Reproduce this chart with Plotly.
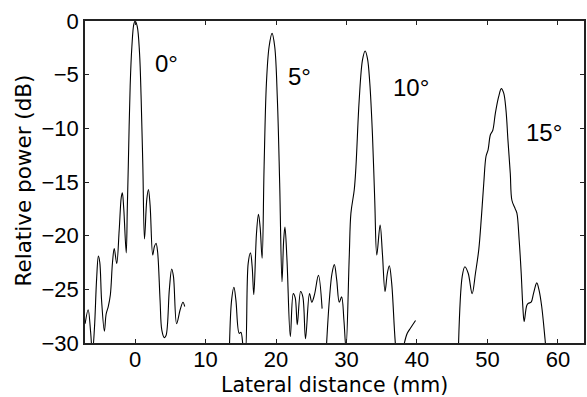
import plotly.graph_objects as go

# 0 degree beam profile
x0 = [-7.08, -6.65, -6.3, -6.05, -5.75, -5.45, -5.2, -5.0, -4.75, -4.35, -4.1, -3.8, -3.5, -3.2,
      -2.95, -2.6, -2.25, -1.95, -1.8, -1.6, -1.25, -1.1, -0.96, -0.69, -0.45, -0.17, 0.02,
      0.31, 0.64, 0.87, 1.11, 1.34, 1.67, 1.9, 2.14, 2.51, 2.75, 2.98, 3.2, 3.55, 3.8, 4.15,
      4.4, 4.87, 5.2, 5.45, 5.9, 6.4, 6.8, 7.05]
y0 = [-28.2, -26.9, -29.0, -31.0, -28.5, -24.0, -21.9, -22.5, -26.0, -28.9, -27.3, -26.6, -25.5, -22.5,
      -21.2, -22.6, -19.5, -16.4, -16.0, -17.5, -21.6, -17.5, -13.6, -6.0, -2.4, -0.3, 0.0,
      -0.5, -3.0, -7.3, -13.6, -20.3, -16.6, -15.7, -17.2, -21.8, -21.0, -20.7, -21.5, -26.0, -28.8, -29.5,
      -29.3, -25.0, -23.1, -23.8, -28.2, -26.9, -26.2, -26.6]

# 5 degree beam profile
x5 = [13.37, 13.7, 14.03, 14.31, 14.78, 15.02, 15.35, 15.63, 16.05, 16.38, 16.62, 16.85, 17.23, 17.51,
      17.75, 18.03, 18.31, 18.64, 19.02, 19.44, 19.82, 20.2, 20.52, 20.85, 21.09, 21.27, 21.56, 22.03,
      22.45, 22.73, 23.02, 23.49, 23.81, 24.19, 24.75, 25.08, 25.46, 26.02, 26.54]
y5 = [-31.0, -26.0, -24.8, -26.0, -29.1, -29.0, -30.4, -31.0, -22.6, -21.6, -22.9, -25.5, -19.8, -18.0,
      -19.2, -22.1, -13.6, -5.8, -2.4, -1.15, -2.4, -7.4, -15.1, -24.3, -20.4, -19.2, -22.3, -29.4,
      -25.4, -25.8, -28.3, -25.2, -25.7, -29.6, -25.4, -26.2, -25.5, -23.7, -26.8]

# 10 degree beam profile
x10 = [27.1, 27.57, 27.95, 28.28, 28.61, 28.98, 29.31, 29.64, 29.93, 30.39, 30.63, 31.1, 31.34, 31.8,
       32.28, 32.65, 32.98, 33.31, 33.68, 34.01, 34.3, 34.77, 35.1, 35.47, 35.8, 36.08, 36.41, 36.98,
       37.5, 38.15, 38.62, 39.09, 39.8]
y10 = [-31.0, -26.0, -23.5, -22.7, -24.1, -26.2, -25.7, -27.9, -30.5, -22.0, -17.9, -15.75, -13.6, -7.4,
       -3.6, -2.8, -3.5, -5.8, -10.5, -16.7, -21.8, -19.0, -21.7, -25.2, -23.5, -22.8, -24.4, -30.4,
       -33.0, -30.2, -29.1, -28.6, -27.9]

# 15 degree beam profile
x15 = [45.86, 46.42, 46.8, 47.27, 47.83, 48.3, 48.77, 49.15, 49.48, 49.8, 50.09, 50.42, 50.75, 51.12,
       51.59, 51.97, 52.3, 52.63, 52.91, 53.24, 53.47, 53.94, 54.18, 54.5, 54.79, 55.02, 55.21, 55.58,
       55.82, 56.2, 56.53, 57.0, 57.33, 57.7, 58.18, 58.5]
y15 = [-31.0, -23.8, -22.9, -23.5, -25.4, -23.5, -21.3, -18.2, -15.1, -12.6, -12.0, -10.6, -10.2, -8.6,
       -7.05, -6.3, -6.7, -8.3, -11.1, -14.2, -16.7, -17.5, -17.9, -20.4, -23.5, -26.6, -28.0, -26.5,
       -26.3, -26.2, -25.4, -24.4, -25.1, -26.6, -29.7, -32.0]

label_text = ["0°", "5°", "10°", "15°"]
label_x = [4.4, 23.3, 39.1, 58.0]
label_y = [-4.0, -5.2, -6.2, -10.4]

x_ticks = [0, 10, 20, 30, 40, 50, 60]
y_ticks = [0, -5, -10, -15, -20, -25, -30]

x_title = "Lateral distance (mm)"
y_title = "Relative power (dB)"

TICK_FONT = "Liberation Sans"
TITLE_FONT = "DejaVu Sans"

fig = go.Figure()
for xs, ys in [(x0, y0), (x5, y5), (x10, y10), (x15, y15)]:
    fig.add_trace(go.Scatter(x=xs, y=ys, mode="lines", line=dict(color="black", width=1.1),
                             line_shape="spline", showlegend=False, hoverinfo="skip"))

for t, xx, yy in zip(label_text, label_x, label_y):
    fig.add_annotation(x=xx, y=yy, text=t, showarrow=False,
                       font=dict(family=TICK_FONT, size=24, color="black"))

# axis titles as paper-positioned annotations
fig.add_annotation(xref="paper", yref="paper", x=0.5, y=-0.131, text=x_title, showarrow=False,
                   xanchor="center", yanchor="middle",
                   font=dict(family=TITLE_FONT, size=20.5, color="black"))
fig.add_annotation(xref="paper", yref="paper", x=-0.124, y=0.505, text=y_title, showarrow=False,
                   xanchor="center", yanchor="middle", textangle=-90,
                   font=dict(family=TITLE_FONT, size=21.5, color="black"))

axis_common = dict(showgrid=False, zeroline=False, showline=True, linecolor="#222",
                   linewidth=1.5, mirror="ticks", ticks="inside", ticklen=4, tickwidth=1,
                   tickcolor="#222", tickfont=dict(family=TICK_FONT, size=22, color="black"))

fig.update_xaxes(range=[-7.1, 63.7], tickvals=x_ticks, ticklabelstandoff=-4, **axis_common)
fig.update_yaxes(range=[-30, 0], tickvals=y_ticks, **axis_common)

fig.update_layout(width=587, height=397, margin=dict(l=85, r=1, t=21, b=54),
                  plot_bgcolor="white", paper_bgcolor="white",
                  font=dict(family=TICK_FONT, color="black"))

fig.write_html("out.html", config={"displayModeBar": False},
               post_script="document.body.style.margin='0';document.body.style.overflow='hidden';")
